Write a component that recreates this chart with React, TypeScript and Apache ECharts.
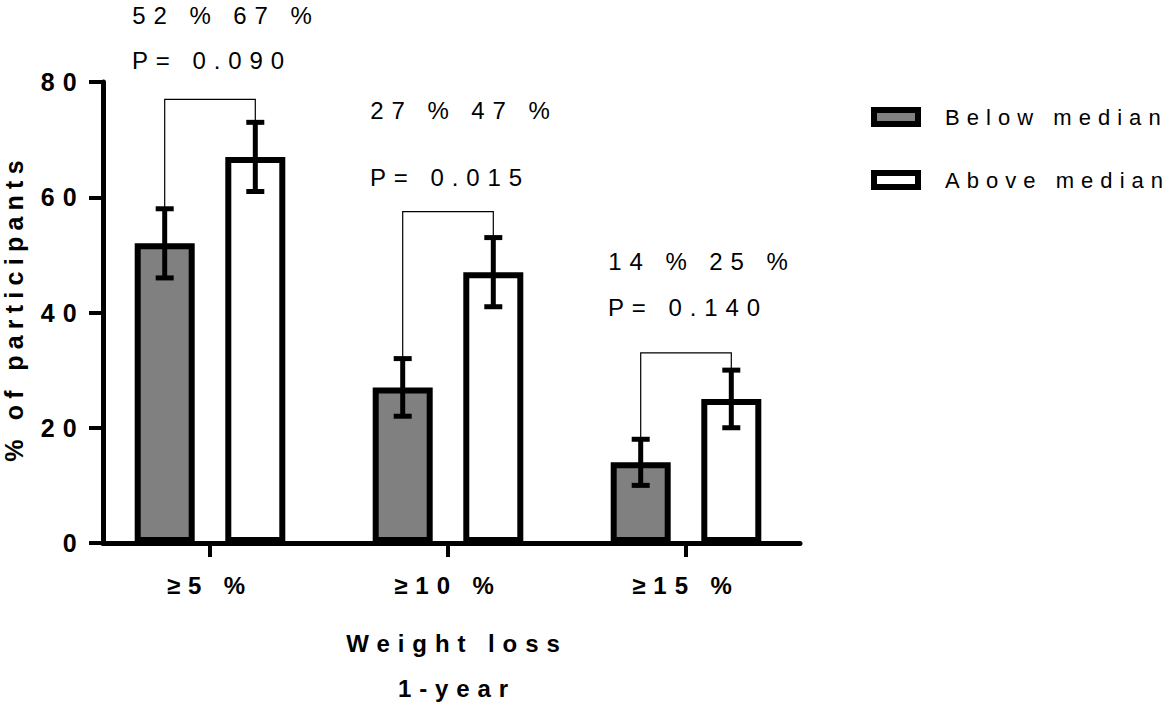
import React, { useEffect, useRef } from 'react';
import * as echarts from 'echarts';

// ---- data ----
const categories = ['≥5 %', '≥10 %', '≥15 %'];
const seriesNames = ['Below median', 'Above median'];
const belowMedian = [52, 27, 14];
const aboveMedian = [67, 47, 25];
const belowLow = [46, 22, 10];
const belowHigh = [58, 32, 18];
const aboveLow = [61, 41, 20];
const aboveHigh = [73, 53, 30];
const pValues = ['0.090', '0.015', '0.140'];
const bracketTop = [77, 57.5, 33];
const pctLabelLevel = [91.6, 75, 48.8];
const pLabelLevel = [83.8, 63.5, 40.8];
const yMin = 0;
const yMax = 80;
const yStep = 20;

// ---- styles ----
const BAR_W = 60;
const BAR_GAP = 0.51;
const BAR_OFFSET = (BAR_W + BAR_W * BAR_GAP) / 2;
const CAP = 9;
const FONT = '"Liberation Sans", Arial, sans-serif';
const FONT_LEGEND = '"Liberation Sans", Arial, lsLegend, sans-serif';
const FONT_YNAME = '"Liberation Sans", Arial, lsYname, sans-serif';

export default function App() {
  const ref = useRef<HTMLDivElement>(null);

  useEffect(() => {
    if (!ref.current) return;
    const chart = echarts.init(ref.current, undefined, { renderer: 'svg' });

    const errorSeries = (low: number[], high: number[], sign: number) => ({
      type: 'custom',
      xAxisIndex: 1,
      yAxisIndex: 1,
      z: 5,
      silent: true,
      data: low.map((l, i) => [i, l, high[i]]),
      renderItem: (params: any, api: any) => {
        const lo = api.coord([api.value(0), api.value(1)]);
        const hi = api.coord([api.value(0), api.value(2)]);
        const x = lo[0] + sign * BAR_OFFSET;
        const st = { stroke: '#000', lineWidth: 5 };
        return {
          type: 'group',
          children: [
            { type: 'line', shape: { x1: x, y1: lo[1], x2: x, y2: hi[1] }, style: st },
            { type: 'line', shape: { x1: x - CAP, y1: lo[1], x2: x + CAP, y2: lo[1] }, style: st },
            { type: 'line', shape: { x1: x - CAP, y1: hi[1], x2: x + CAP, y2: hi[1] }, style: st },
          ],
        };
      },
    });

    const option: any = {
      animation: false,
      backgroundColor: '#fff',
      grid: [
        { left: 103, top: 82, width: 697, height: 461, containLabel: false, outerBoundsMode: 'none' },
        { left: 91, top: 82, width: 714, height: 461, containLabel: false, outerBoundsMode: 'none' },
      ],
      xAxis: [
        {
          gridIndex: 0,
          type: 'value',
          min: 0,
          max: 1,
          axisLine: { show: true, lineStyle: { color: '#000', width: 5 } },
          axisTick: { show: false },
          axisLabel: { show: false },
          splitLine: { show: false },
        },
        {
          gridIndex: 1,
          type: 'category',
          data: categories,
          axisLine: { show: false },
          axisTick: { show: true, alignWithLabel: true, length: 14, lineStyle: { color: '#000', width: 4 } },
          axisLabel: {
            interval: 0,
            margin: 30,
            color: '#000',
            fontSize: 24,
            fontWeight: 'bold',
            fontFamily: FONT,
          },
          name: 'Weight loss\n1-year',
          nameLocation: 'middle',
          nameGap: 78,
          nameTextStyle: {
            color: '#000',
            fontSize: 24,
            fontWeight: 'bold',
            fontFamily: FONT,
            lineHeight: 45,
            padding: [0, 0, 0, 18],
          },
        },
      ],
      yAxis: [
        {
          gridIndex: 0,
          type: 'value',
          min: yMin,
          max: yMax,
          interval: yStep,
          axisLine: { show: true, lineStyle: { color: '#000', width: 5 } },
          axisTick: { show: true, length: 14, lineStyle: { color: '#000', width: 4 } },
          axisLabel: {
            margin: 18,
            color: '#000',
            fontSize: 25,
            fontWeight: 'bold',
            fontFamily: FONT,
          },
          splitLine: { show: false },
        },
        {
          gridIndex: 1,
          type: 'value',
          min: yMin,
          max: yMax,
          show: false,
        },
      ],
      legend: {
        orient: 'vertical',
        left: 871,
        top: 104,
        padding: 0,
        itemWidth: 44,
        itemHeight: 14,
        itemGap: 37,
        icon: 'rect',
        selectedMode: false,
        textStyle: {
          color: '#000',
          fontSize: 22,
          fontFamily: FONT_LEGEND,
          lineHeight: 26,
          padding: [0, 0, 0, 22],
        },
        data: [
          { name: seriesNames[0], itemStyle: { color: '#808080', borderColor: '#000', borderWidth: 6 } },
          { name: seriesNames[1], itemStyle: { color: '#fff', borderColor: '#000', borderWidth: 6 } },
        ],
      },
      graphic: [
        {
          type: 'text',
          x: 14,
          y: 308,
          rotation: Math.PI / 2,
          style: {
            text: '% of participants',
            font: `bold 25px ${FONT_YNAME}`,
            fill: '#000',
            align: 'center',
            verticalAlign: 'middle',
          },
        },
      ],
      series: [
        {
          name: seriesNames[0],
          type: 'bar',
          xAxisIndex: 1,
          yAxisIndex: 1,
          barWidth: BAR_W,
          barGap: `${BAR_GAP * 100}%`,
          data: belowMedian,
          itemStyle: { color: '#808080', borderColor: '#000', borderWidth: 6 },
        },
        {
          name: seriesNames[1],
          type: 'bar',
          xAxisIndex: 1,
          yAxisIndex: 1,
          barWidth: BAR_W,
          barGap: `${BAR_GAP * 100}%`,
          data: aboveMedian,
          itemStyle: { color: '#fff', borderColor: '#000', borderWidth: 6 },
        },
        errorSeries(belowLow, belowHigh, -1),
        errorSeries(aboveLow, aboveHigh, 1),
        {
          type: 'custom',
          xAxisIndex: 1,
          yAxisIndex: 1,
          z: 4,
          silent: true,
          data: categories.map((c, i) => [i, belowHigh[i], bracketTop[i], aboveHigh[i]]),
          renderItem: (params: any, api: any) => {
            const i = api.value(0);
            const a = api.coord([i, api.value(1)]);
            const t = api.coord([i, api.value(2)]);
            const b = api.coord([i, api.value(3)]);
            const xl = a[0] - BAR_OFFSET;
            const xr = a[0] + BAR_OFFSET;
            return {
              type: 'polyline',
              shape: { points: [[xl, a[1]], [xl, t[1]], [xr, t[1]], [xr, b[1]]] },
              style: { stroke: '#000', lineWidth: 1.2, fill: null },
            };
          },
        },
        {
          type: 'custom',
          xAxisIndex: 1,
          yAxisIndex: 1,
          z: 4,
          silent: true,
          data: categories.map((c, i) => [i, pctLabelLevel[i], pLabelLevel[i]]),
          renderItem: (params: any, api: any) => {
            const i = params.dataIndex;
            const p1 = api.coord([api.value(0), api.value(1)]);
            const p2 = api.coord([api.value(0), api.value(2)]);
            const font = `24px ${FONT}`;
            return {
              type: 'group',
              children: [
                {
                  type: 'text',
                  x: p1[0] + 16,
                  y: p1[1],
                  style: {
                    text: `${belowMedian[i]} % ${aboveMedian[i]} %`,
                    font,
                    fill: '#000',
                    align: 'center',
                    verticalAlign: 'middle',
                  },
                },
                {
                  type: 'text',
                  x: p2[0] + 2,
                  y: p2[1],
                  style: {
                    text: `P= ${pValues[i]}`,
                    font,
                    fill: '#000',
                    align: 'center',
                    verticalAlign: 'middle',
                  },
                },
              ],
            };
          },
        },
      ],
    };

    chart.setOption(option);
    return () => chart.dispose();
  }, []);

  return (
    <>
      <style>{`
        .chart-root text { letter-spacing: 0.33em; }
        .chart-root text[style*="lsLegend"], .chart-root text[font-family*="lsLegend"] { letter-spacing: 0.32em; }
        .chart-root text[style*="lsYname"], .chart-root text[font-family*="lsYname"] { letter-spacing: 0.25em; }
      `}</style>
      <div
        ref={ref}
        className="chart-root"
        style={{ position: 'absolute', left: 0, top: 0, width: 1175, height: 706 }}
      />
    </>
  );
}
